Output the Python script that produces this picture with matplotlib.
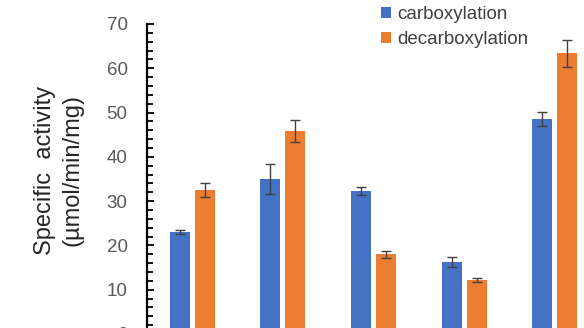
import matplotlib
matplotlib.use('Agg')
import matplotlib.pyplot as plt
from matplotlib.ticker import MultipleLocator
import numpy as np

# values
groups = ['1', '2', '3', '4', '5']
carbox = [23.0, 35.0, 32.3, 16.3, 48.5]
carbox_err = [0.5, 3.3, 0.8, 1.2, 1.6]
decarbox = [32.5, 45.8, 18.0, 12.2, 63.4]
decarbox_err = [1.5, 2.5, 0.8, 0.4, 3.1]

plt.rcParams['font.family'] = ['Liberation Sans', 'DejaVu Sans']

fig = plt.figure(figsize=(5.84, 3.28), dpi=100)
# axes run past the right and bottom edges, the reference is a crop
ax = fig.add_axes([147 / 584, -6 / 328, 453 / 584, 310 / 328])

x = np.arange(len(groups))
w = 0.22
off = 0.1375
ekw = dict(ecolor='#404040', elinewidth=1, capsize=3.5, capthick=1)
ax.bar(x - off, carbox, w, yerr=carbox_err, color='#4472C4',
       label='carboxylation', error_kw=ekw)
ax.bar(x + off, decarbox, w, yerr=decarbox_err, color='#ED7D31',
       label='decarboxylation', error_kw=ekw)

ax.set_xlim(-0.5, 4.5)
ax.set_ylim(0, 70)
ax.yaxis.set_major_locator(MultipleLocator(10))
ax.yaxis.set_minor_locator(MultipleLocator(2))
ax.tick_params(axis='y', which='both', direction='in', width=1.3,
               colors='black', labelcolor='#595959', labelsize=13.5, pad=14)
ax.tick_params(axis='y', which='major', length=5)
ax.tick_params(axis='y', which='minor', length=4)
ax.set_xticks([])
for s in ['top', 'right', 'bottom']:
    ax.spines[s].set_visible(False)
ax.spines['left'].set_linewidth(1.6)

fig.text(59 / 584, 1 - 170 / 328, 'Specific  activity\n(\u00b5mol/min/mg)',
         rotation=90, ha='center', va='center', multialignment='center',
         fontsize=17, linespacing=1.35, color='#262626')

fig.legend(loc='upper left', bbox_to_anchor=(381 / 584, 1 - 6 / 328),
           frameon=False, fontsize=13.5, handlelength=0.55, handleheight=0.55,
           handletextpad=0.3, labelspacing=0.45, borderpad=0,
           borderaxespad=0, labelcolor='#404040')

fig.savefig('out.png', dpi=100)
